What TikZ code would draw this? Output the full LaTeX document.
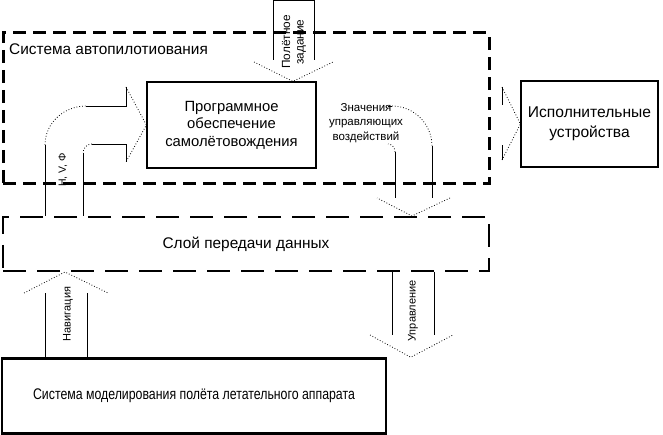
\documentclass[tikz,border=0pt]{standalone}
\usepackage{fontspec}
\setmainfont{Liberation Sans}
\newfontfamily\narrowfont[FakeStretch=0.8]{Liberation Sans}
\usetikzlibrary{calc}

\begin{document}
\begin{tikzpicture}[x=1pt,y=-1pt,
  block/.style={draw,line width=1.2pt,inner sep=0pt,align=center,font=\fontsize{14.8}{17.5}\selectfont},
  zone/.style={draw,line width=3pt,dash pattern=on 13pt off 7pt,inner sep=0pt},
  layer/.style={draw,line width=2pt,dash pattern=on 23pt off 11pt,inner sep=0pt,font=\fontsize{15.4}{17.5}\selectfont},
  shaft/.style={line width=0.8pt},
  wing/.style={line width=0.8pt,dotted},
  tag/.style={inner sep=0pt,align=center,font=\fontsize{11}{12.5}\selectfont}]
\useasboundingbox (0,0) rectangle (663,435);
% boxes
\node[zone,minimum width=486pt,minimum height=151pt] (auto) at (246,108.5) {};
\node[anchor=west,inner sep=0pt,font=\fontsize{15.4}{17.5}\selectfont] (autolbl) at (9,49) {Система автопилотиования};
\node[block,minimum width=169pt,minimum height=86pt] (prog) at (231.5,125) {Программное\\обеспечение\\самолётовождения};
\node[block,minimum width=137pt,minimum height=86pt,font=\fontsize{15.6}{20}\selectfont] (exec) at (589.5,124) {Исполнительные\\устройства};
\node[layer,minimum width=486pt,minimum height=54pt] (data) at (246,244) {Слой передачи данных};
\node[block,line width=2.5pt,minimum width=384pt,minimum height=75pt,font=\narrowfont\fontsize{15.4}{17.5}\selectfont] (sim) at (194,396) {Система моделирования полёта летательного аппарата};
% flight task (down)
\draw[shaft] (273,60) -- (273,0.6) -- (314,0.6) -- (314,60);
\draw[wing] (254,62) -- ($(prog.north west)+(146.5,0)$) -- (333,62);
\node[tag,rotate=90,font=\fontsize{11.8}{13.5}\selectfont] (task) at (294,42) {Полётное\\задание};
% H, V, Phi (curved, up to prog)
\draw[shaft] (45,0 |- data.north) -- (45,145);
\draw[wing] (45,145) .. controls (45,123) and (64,106) .. (86,106);
\draw[shaft] (86,106) -- (126,106) -- (126,87);
\draw[wing] (126,87) -- (prog.west) -- (126,162);
\draw[shaft] (126,162) -- (126,144) -- (92,144);
\draw[wing] (92,144) .. controls (87,144) and (83,148) .. (83,153);
\draw[shaft] (83,153) -- (83,0 |- data.north);
\node[tag,rotate=90,font=\fontsize{10.5}{12}\selectfont] (hvf) at (63,170) {H, V, Φ};
% control values (curved, down to data)
\draw[shaft] (388,106) -- (392,106);
\draw[wing] (392,106) .. controls (414,106) and (432,124) .. (432,146);
\draw[shaft] (432,146) -- (432,198);
\draw[wing] (450,198) -- ($(data.north west)+(410,0)$) -- (377,198);
\draw[shaft] (395,198) -- (395,152);
\draw[wing] (395,152) .. controls (395,148) and (392,144) .. (388,144);
\node[tag,font=\fontsize{11.5}{14.5}\selectfont] (ctrl) at (366,123) {Значения\\управляющих\\воздействий};
% to actuators
\draw[shaft] (502,105) -- (502,87);
\draw[wing] (502,87) -- (exec.west) -- (502,160);
\draw[shaft] (502,160) -- (502,145);
% navigation (up)
\draw[shaft] (45,0 |- sim.north) -- (45,293);
\draw[shaft] (87,0 |- sim.north) -- (87,293);
\draw[wing] (24,293) -- ($(data.south west)+(63,0)$) -- (108,293);
\node[tag,rotate=90] (nav) at (68,314) {Навигация};
% control (down)
\draw[shaft] (392,0 |- data.south) -- (392,335);
\draw[shaft] (434,0 |- data.south) -- (434,335);
\draw[wing] (370,335) -- ($(sim.north west)+(410,0)$) -- (453,335);
\node[tag,rotate=90] (ctl) at (413,311) {Управление};
\end{tikzpicture}
\end{document}
